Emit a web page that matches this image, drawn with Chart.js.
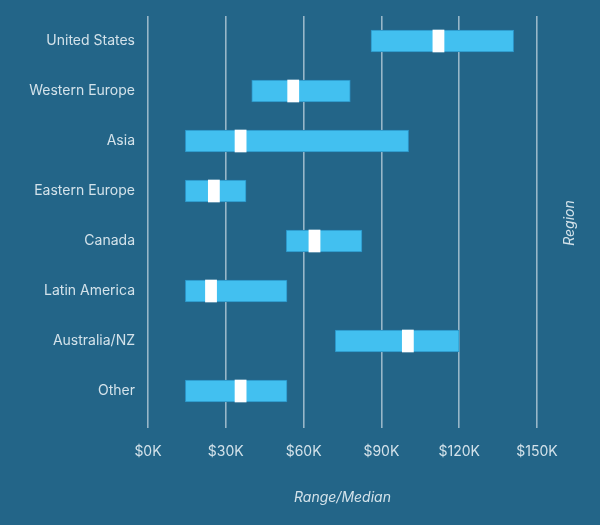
<!DOCTYPE html>
<html>
<head>
<meta charset="utf-8">
<script src="https://cdn.jsdelivr.net/npm/chart.js@4"></script>
<style>
  html, body { margin: 0; padding: 0; background: #236588; }
  #wrap { width: 600px; height: 525px; }
</style>
</head>
<body>
<div id="wrap"><canvas id="myChart"></canvas></div>
<script>
const regions = ['United States', 'Western Europe', 'Asia', 'Eastern Europe', 'Canada', 'Latin America', 'Australia/NZ', 'Other'];
const rangeLow  = [86, 40, 14.4, 14.4, 53.3, 14.4, 72.2, 14.4];
const rangeHigh = [141, 78, 100.5, 37.8, 82.5, 53.6, 120, 53.6];
const medians   = [112, 56, 35.7, 25.4, 64.2, 24.3, 100.2, 35.7];
const xTicks    = [0, 30, 60, 90, 120, 150];

const medianHalf = 2.15; // half width of the white median marker, in $K
const textColor = '#d3e2ea';

// "Region" sits on the right, reading bottom to top
const regionTitle = {
  id: 'regionTitle',
  afterDraw(chart) {
    const { ctx, chartArea } = chart;
    ctx.save();
    ctx.translate(570, (chartArea.top + chartArea.bottom) / 2 + 7);
    ctx.rotate(-Math.PI / 2);
    ctx.fillStyle = textColor;
    ctx.font = 'italic 14px Inter';
    ctx.textAlign = 'center';
    ctx.textBaseline = 'middle';
    ctx.fillText('Region', 0, 0);
    ctx.restore();
  }
};

const ctx = document.getElementById('myChart');

new Chart(ctx, {
  type: 'bar',
  data: {
    labels: regions,
    datasets: [{
      label: 'Median',
      data: medians.map(m => [m - medianHalf, m + medianHalf]),
      backgroundColor: '#ffffff',
      borderWidth: 0,
      barThickness: 22,
      grouped: false,
      order: 0
    }, {
      label: 'Range',
      data: rangeLow.map((lo, i) => [lo, rangeHigh[i]]),
      backgroundColor: '#42c0f0',
      borderColor: '#2b93c5',
      borderWidth: 1,
      borderSkipped: false,
      barThickness: 22,
      grouped: false,
      order: 1
    }]
  },
  options: {
    indexAxis: 'y',
    responsive: true,
    maintainAspectRatio: false,
    animation: false,
    layout: { padding: { top: 16, right: 63, bottom: 0, left: 0 } },
    plugins: {
      legend: { display: false },
      tooltip: { enabled: false }
    },
    scales: {
      x: {
        min: 0,
        max: 150,
        afterBuildTicks(scale) { scale.ticks = xTicks.map(v => ({ value: v })); },
        afterFit(scale) { scale.height = 109; },
        grid: {
          color: 'rgba(215,228,235,0.65)',
          lineWidth: 1.6,
          tickLength: 12,
          drawTicks: true
        },
        border: { display: false },
        ticks: {
          color: textColor,
          font: { size: 14, family: 'Inter' },
          padding: 15,
          callback: v => '$' + v + 'K'
        },
        title: {
          display: true,
          text: 'Range/Median',
          color: textColor,
          font: { size: 14, family: 'Inter', style: 'italic' },
          padding: { top: 0, bottom: 19 }
        }
      },
      y: {
        afterFit(scale) { scale.width = 148; },
        grid: { display: false },
        border: { display: false },
        ticks: {
          color: textColor,
          font: { size: 14, family: 'Inter' },
          padding: 5
        }
      }
    }
  },
  plugins: [regionTitle]
});
</script>
</body>
</html>
